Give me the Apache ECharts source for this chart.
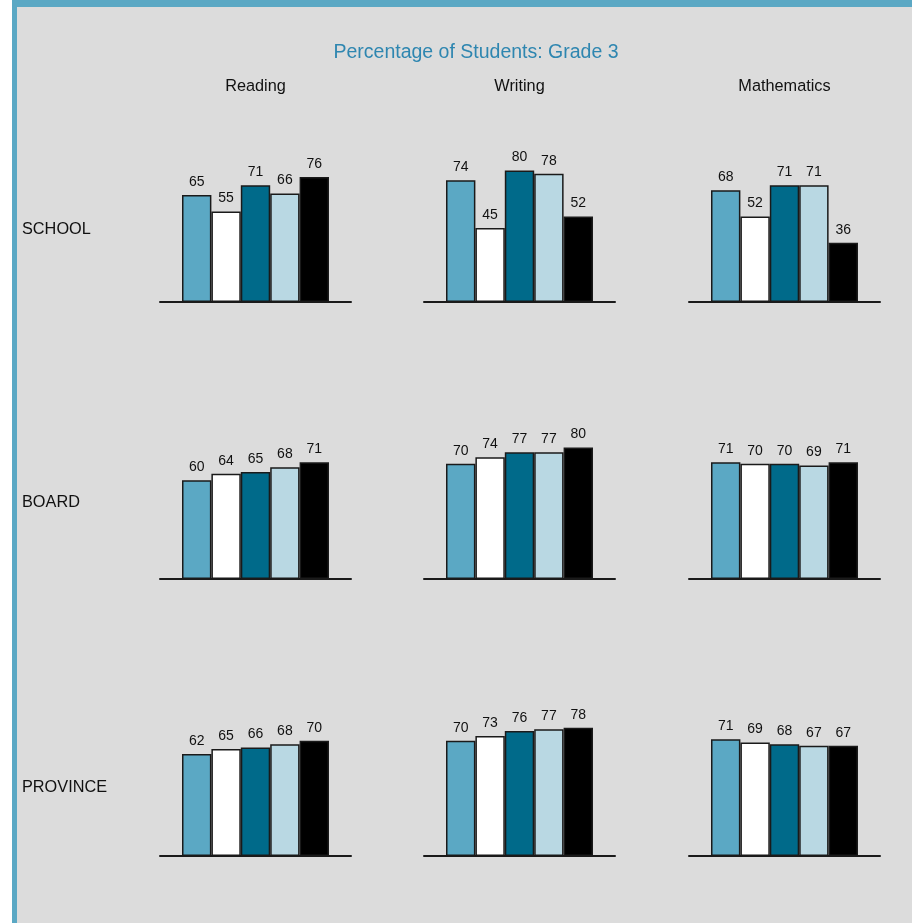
<!DOCTYPE html>
<html>
<head>
<meta charset="utf-8">
<script src="https://cdn.jsdelivr.net/npm/echarts@6/dist/echarts.min.js"></script>
<style>
  html, body { margin: 0; padding: 0; background: #ffffff; }
  #chart { width: 919px; height: 923px; }
</style>
</head>
<body>
<div id="chart"></div>
<script>
// Subjects (columns) and comparison levels (rows)
const subjects = ['Reading', 'Writing', 'Mathematics'];
const levels = ['SCHOOL', 'BOARD', 'PROVINCE'];

// Percentage of students, five results per subject, in subject order
const schoolValues = [
  [65, 55, 71, 66, 76],
  [74, 45, 80, 78, 52],
  [68, 52, 71, 71, 36]
];
const boardValues = [
  [60, 64, 65, 68, 71],
  [70, 74, 77, 77, 80],
  [71, 70, 70, 69, 71]
];
const provinceValues = [
  [62, 65, 66, 68, 70],
  [70, 73, 76, 77, 78],
  [71, 69, 68, 67, 67]
];
const levelValues = [schoolValues, boardValues, provinceValues];

// Bar fill for each of the five results
const barColors = ['#5ba8c4', '#ffffff', '#006a8a', '#b9d8e3', '#000000'];

const FONT = '"Liberation Sans", Arial, sans-serif';
const colLeft = [160, 424, 689];
const gridWidth = 191;
const baseLines = [302, 579, 856];
const rowLabelY = [230, 503, 788];
const plotHeight = 164.5;

const grids = [], xAxes = [], yAxes = [], series = [];

// Frame: grey panel with a blue band along the top and left edges
const graphics = [
  { type: 'rect', z: -10, shape: { x: 12, y: 0, width: 900, height: 923 }, style: { fill: '#dcdcdc' } },
  { type: 'rect', z: -9, shape: { x: 12, y: 0, width: 900, height: 7 }, style: { fill: '#5ba8c4' } },
  { type: 'rect', z: -9, shape: { x: 12, y: 0, width: 5, height: 923 }, style: { fill: '#5ba8c4' } },
  {
    type: 'text', x: 476, y: 53,
    style: {
      text: 'Percentage of Students: Grade 3', font: '19.5px ' + FONT,
      fill: '#2e86b0', textAlign: 'center', textVerticalAlign: 'middle'
    }
  }
];

subjects.forEach((s, c) => {
  graphics.push({
    type: 'text', x: colLeft[c] + gridWidth / 2, y: 87,
    style: {
      text: s, font: '16.3px ' + FONT, fill: '#111',
      textAlign: 'center', textVerticalAlign: 'middle'
    }
  });
});

levels.forEach((lv, r) => {
  graphics.push({
    type: 'text', x: 22, y: rowLabelY[r],
    style: {
      text: lv, font: '16.3px ' + FONT, fill: '#111',
      textAlign: 'left', textVerticalAlign: 'middle'
    }
  });
  subjects.forEach((s, c) => {
    const idx = grids.length;
    grids.push({
      left: colLeft[c],
      top: baseLines[r] - plotHeight,
      width: gridWidth,
      height: plotHeight
    });
    xAxes.push({
      gridIndex: idx, type: 'category', data: [s],
      axisLine: { show: true, lineStyle: { color: '#1a1a1a', width: 2 } },
      axisTick: { show: false }, axisLabel: { show: false }, splitLine: { show: false }
    });
    yAxes.push({
      gridIndex: idx, type: 'value', min: 0, max: 100,
      show: false, splitLine: { show: false }
    });
    levelValues[r][c].forEach((v, k) => {
      series.push({
        type: 'bar',
        name: lv + ' ' + s + ' ' + (k + 1),
        xAxisIndex: idx, yAxisIndex: idx,
        data: [v],
        barWidth: 29.4,
        barGap: '0%',
        itemStyle: { color: barColors[k], borderColor: '#1a1a1a', borderWidth: 1.5 },
        label: {
          show: true, position: 'top', distance: 6,
          fontFamily: FONT, fontSize: 14, color: '#111'
        },
        silent: true,
        animation: false
      });
    });
  });
});

const chart = echarts.init(document.getElementById('chart'), null, { renderer: 'canvas' });
chart.setOption({
  backgroundColor: '#ffffff',
  animation: false,
  graphic: graphics,
  grid: grids,
  xAxis: xAxes,
  yAxis: yAxes,
  series: series
});
</script>
</body>
</html>
